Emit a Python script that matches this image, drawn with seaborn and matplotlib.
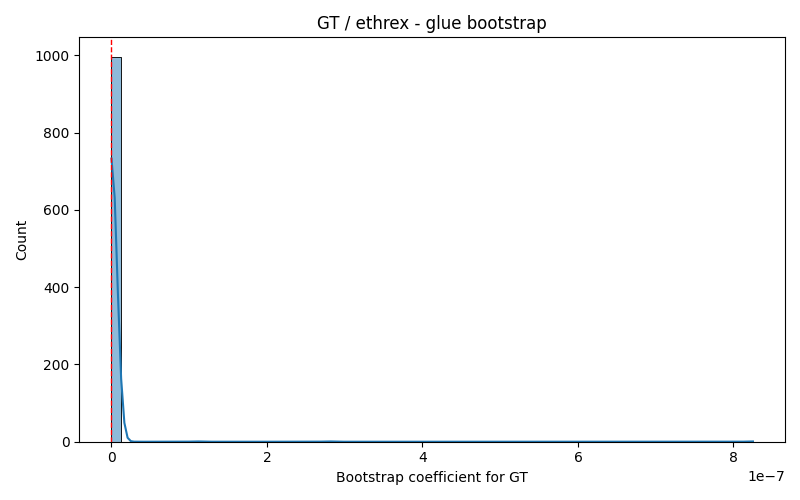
import numpy as np
import seaborn as sns
import matplotlib.pyplot as plt

# Bootstrap coefficients: the bulk sits right at zero, a few outliers far out
bulk_values = [0.0, 5e-10, 1e-9, 2e-9]
bulk_counts = [600, 250, 100, 47]
outlier_values = [1.1e-7, 2.8e-7, 8.25e-7]

coefs = np.concatenate([np.repeat(bulk_values, bulk_counts), outlier_values])

fig, ax = plt.subplots(figsize=(8, 5), dpi=100)
sns.histplot(coefs, bins=64, kde=True, ax=ax)
ax.axvline(0, color="red", linestyle="--", linewidth=1)

ax.set_title("GT / ethrex - glue bootstrap")
ax.set_xlabel("Bootstrap coefficient for GT")
ax.set_ylabel("Count")

fig.tight_layout()
fig.savefig("out.png")
